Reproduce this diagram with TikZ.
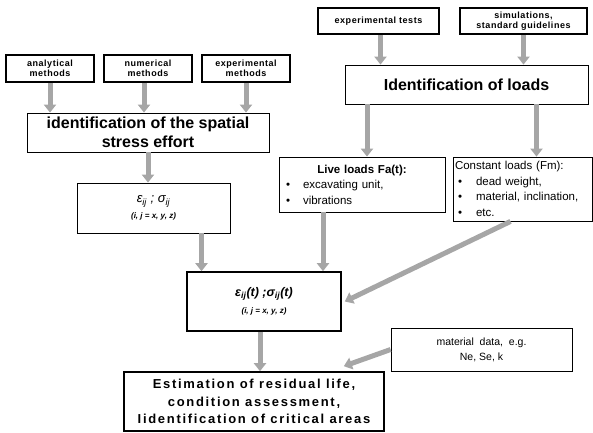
\documentclass[tikz,border=0pt]{standalone}
\usepackage{fontspec}
\setmainfont{Liberation Sans}
\newfontfamily\spacedfont[LetterSpace=6]{Liberation Sans}
\newfontfamily\widefont[LetterSpace=13]{Liberation Sans}
\usetikzlibrary{arrows.meta}
\definecolor{arrowgray}{HTML}{A6A6A6}

\begin{document}
\begin{tikzpicture}[x=1pt, y=-1pt]
    \tikzstyle thickbox=[draw, line width=1.6pt, align=center, inner sep=0pt]
    \tikzstyle thinbox=[draw, line width=0.8pt, align=center, inner sep=0pt]
    \tikzstyle methodbox=[thickbox, minimum width=88pt, minimum height=27pt, font=\spacedfont\fontsize{9}{10}\selectfont\bfseries]
    \tikzstyle sourcebox=[thickbox, minimum height=26pt, font=\spacedfont\fontsize{9}{10}\selectfont\bfseries]
    \tikzstyle listbox=[thinbox, align=left, font=\fontsize{11.5}{15.5}\selectfont]
    \tikzstyle loadarrow=[draw=arrowgray, line width=5pt, -{Triangle[width=12pt,length=8pt]}]
    \useasboundingbox (0,0) rectangle (593,432);
    \node[methodbox] (analytic) at (50,68.5) {analytical\\methods};
    \node[methodbox] (numeric) at (148,68.5) {numerical\\methods};
    \node[methodbox] (experim) at (246,68.5) {experimental\\methods};
    \node[thinbox, minimum width=242pt, minimum height=39pt,
      font=\fontsize{16}{19}\selectfont\bfseries] (stress) at (148,132.5)
      {identification of the spatial\\stress effort};
    \node[thinbox, minimum width=153pt, minimum height=50pt,
      font=\fontsize{13}{16}\selectfont\itshape] (strain) at (153.5,208)
      {ε\textsubscript{ij} ; σ\textsubscript{ij}\\{\fontsize{8}{10}\selectfont\bfseries (i, j = x, y, z)}};
    \node[sourcebox, minimum width=121pt] (tests) at (378.5,21) {experimental tests};
    \node[sourcebox, minimum width=127pt] (simul) at (523.5,21) {simulations,\\standard guidelines};
    \node[thinbox, minimum width=243pt, minimum height=39pt,
      font=\fontsize{16}{19}\selectfont\bfseries] (loads) at (466.5,84.5) {Identification of loads};
    \node[listbox, text width=152pt, inner xsep=7pt, minimum height=55pt] (live) at (362,184.5)
      {\makebox[152pt]{\bfseries Live loads Fa(t):}\\
       \textbullet\hspace{13pt}excavating unit,\\
       \textbullet\hspace{13pt}vibrations};
    \node[listbox, text width=135pt, inner xsep=2pt, minimum height=64pt] (const) at (522.5,189)
      {Constant loads (Fm):\\
       \hspace{3pt}\textbullet\hspace{14pt}dead weight,\\
       \hspace{3pt}\textbullet\hspace{14pt}material, inclination,\\
       \hspace{3pt}\textbullet\hspace{14pt}etc.};
    \node[thickbox, minimum width=154pt, minimum height=59pt,
      font=\fontsize{12.5}{17}\selectfont\bfseries\itshape] (timed) at (264,301.5)
      {ε\textsubscript{ij}(t) ;σ\textsubscript{ij}(t)\\{\fontsize{8}{10}\selectfont (i, j = x, y, z)}};
    \node[thinbox, minimum width=181pt, minimum height=43pt,
      font=\fontsize{10.5}{15}\selectfont] (matdata) at (481.5,349.5)
      {material\ \ data,\ \ e.g.\\Ne,\ Se,\ k};
    \node[thickbox, minimum width=260pt, minimum height=59pt,
      font=\widefont\fontsize{13}{17.5}\selectfont\bfseries] (estim) at (254,401.5)
      {Estimation of residual life,\\condition assessment,\\Iidentification of critical areas};
    \draw[loadarrow] (analytic.south) -- (analytic.south |- stress.north);
    \draw[loadarrow] ([xshift=-4pt]numeric.south) -- ([xshift=-4pt]numeric.south |- stress.north);
    \draw[loadarrow] (experim.south) -- (experim.south |- stress.north);
    \draw[loadarrow] (stress.south) -- (stress.south |- strain.north);
    \draw[loadarrow] ([xshift=48pt]strain.south) -- ([xshift=48pt]strain.south |- timed.north);
    \draw[loadarrow] ([xshift=2pt]tests.south) -- ([xshift=2pt]tests.south |- loads.north);
    \draw[loadarrow] (simul.south) -- (simul.south |- loads.north);
    \draw[loadarrow] ([xshift=5pt]live.north |- loads.south) -- ([xshift=5pt]live.north);
    \draw[loadarrow] ([xshift=14pt]const.north |- loads.south) -- ([xshift=14pt]const.north);
    \draw[loadarrow] ([xshift=-39pt]live.south) -- ([xshift=-39pt]live.south |- timed.north);
    \draw[loadarrow] ([xshift=-12pt]const.south) -- ([xshift=3pt]timed.east);
    \draw[loadarrow] ([xshift=-4pt]timed.south) -- ([xshift=-4pt]timed.south |- estim.north);
    \draw[loadarrow] (matdata.west) -- ([xshift=-41pt,yshift=5pt]estim.north east);
\end{tikzpicture}
\end{document}
